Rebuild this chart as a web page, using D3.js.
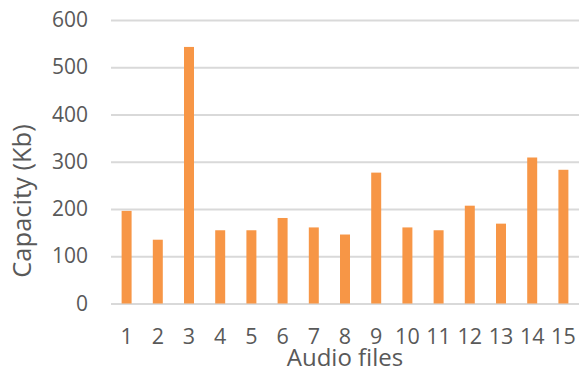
<!DOCTYPE html>
<html>
<head>
<meta charset="utf-8">
<script src="https://cdn.jsdelivr.net/npm/d3@7"></script>
<style>
  html, body { margin: 0; padding: 0; background: #fff; }
  svg { display: block; }
  text { font-family: "Open Sans", sans-serif; fill: #595959; }
</style>
</head>
<body>
<svg id="chart" width="579" height="372"></svg>
<script>
// Capacity of each audio file, in Kb
const files = ["1","2","3","4","5","6","7","8","9","10","11","12","13","14","15"];
const capacity = [196, 135, 543, 155, 155, 181, 161, 146, 277, 161, 155, 207, 169, 309, 283];
const yTicks = [0, 100, 200, 300, 400, 500, 600];
const xTitle = "Audio files";
const yTitle = "Capacity (Kb)";

const width = 579, height = 372;
const margin = { top: 20, right: 0, bottom: 68.5, left: 111 };

const svg = d3.select("#chart");

const x = d3.scaleBand()
  .domain(files)
  .range([margin.left, width - margin.right])
  .paddingInner(0.68)
  .paddingOuter(0.34);

const y = d3.scaleLinear()
  .domain([0, 600])
  .range([height - margin.bottom, margin.top]);

// horizontal gridlines with value labels
const yAxis = svg.append("g")
  .attr("transform", `translate(${margin.left},0)`)
  .call(d3.axisLeft(y).tickValues(yTicks).tickSize(-(width - margin.left - margin.right)).tickPadding(23));
yAxis.select(".domain").remove();
yAxis.selectAll(".tick line").attr("stroke", "#d9d9d9").attr("stroke-width", 2);
yAxis.selectAll(".tick text").attr("font-size", 21).attr("fill", "#595959");

// bars
svg.append("g")
  .selectAll("rect")
  .data(capacity)
  .join("rect")
  .attr("x", (d, i) => x(files[i]))
  .attr("width", x.bandwidth())
  .attr("y", d => y(d))
  .attr("height", d => y(0) - y(d))
  .attr("fill", "#f79646");

// category labels
const xAxis = svg.append("g")
  .attr("transform", `translate(0,${y(0)})`)
  .call(d3.axisBottom(x).tickSize(0).tickPadding(25));
xAxis.select(".domain").remove();
xAxis.selectAll(".tick text").attr("font-size", 21.5).attr("fill", "#595959");

// axis titles
svg.append("text")
  .attr("x", (margin.left + width - margin.right) / 2)
  .attr("y", 366)
  .attr("text-anchor", "middle")
  .attr("font-size", 24)
  .text(xTitle);

svg.append("text")
  .attr("transform", `translate(31,201) rotate(-90)`)
  .attr("text-anchor", "middle")
  .attr("font-size", 25.5)
  .text(yTitle);
</script>
</body>
</html>
